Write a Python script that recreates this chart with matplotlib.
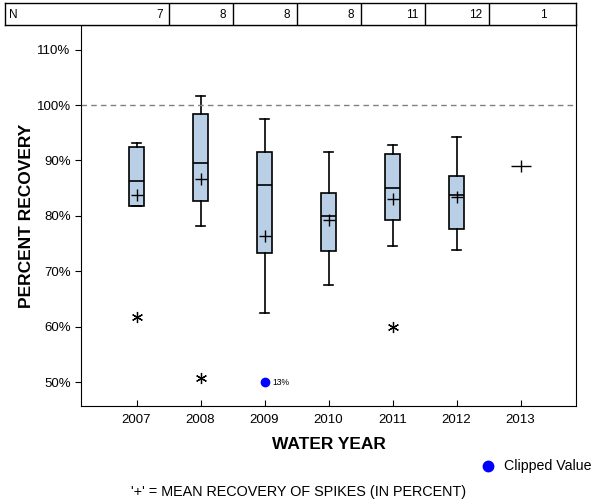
import matplotlib
matplotlib.use("Agg")
from matplotlib import pyplot as plt
from matplotlib.lines import Line2D

plt.rcParams["font.family"] = ["Liberation Sans", "DejaVu Sans"]

years = ["2007", "2008", "2009", "2010", "2011", "2012", "2013"]
counts = [7, 8, 8, 8, 11, 12, 1]

# box stats for the first six years (percent)
whis_hi = [93.1, 101.6, 97.4, 91.5, 92.7, 94.2]
q3 = [92.4, 98.3, 91.5, 84.1, 91.1, 87.1]
median = [86.3, 89.5, 85.6, 79.9, 85.0, 83.7]
q1 = [81.7, 82.6, 73.2, 73.6, 79.2, 77.7]
whis_lo = [81.7, 78.2, 62.4, 67.5, 74.5, 73.8]
means = [83.7, 86.7, 76.4, 79.2, 83.0, 83.4, 88.9]
outliers = [[61.7], [50.7], [], [], [60.0], []]

clip_year = 2
clip_value = 13
clip_at = 50

box_color = "#b9cfe6"

fig = plt.figure(figsize=(6, 5), dpi=100)
W, H = 600, 500
left, right, top, bottom = 81, 576, 25, 406
ax = fig.add_axes([left / W, 1 - bottom / H, (right - left) / W, (bottom - top) / H])

stats = []
for i in range(6):
    stats.append(dict(med=median[i], q1=q1[i], q3=q3[i], whislo=whis_lo[i],
                      whishi=whis_hi[i], mean=means[i], fliers=[]))

ax.bxp(stats, positions=range(6), widths=0.235, capwidths=0.15, patch_artist=True,
       showmeans=False, showfliers=False,
       boxprops=dict(facecolor=box_color, edgecolor="black", linewidth=1.2),
       medianprops=dict(color="black", linewidth=1.2),
       whiskerprops=dict(color="black", linewidth=1.2),
       capprops=dict(color="black", linewidth=1.2))

# means: horizontal and vertical strokes of the plus sign
xs = list(range(7))
hsize = [9] * 6 + [15]
vsize = [9] * 6 + [9]
for x, m, hs, vs in zip(xs, means, hsize, vsize):
    ax.plot([x], [m], marker="_", markersize=hs, markeredgecolor="black",
            markeredgewidth=1.0, linestyle="none")
    ax.plot([x], [m], marker="|", markersize=vs, markeredgecolor="black",
            markeredgewidth=1.0, linestyle="none")

# outliers
for i, vals in enumerate(outliers):
    for v in vals:
        ax.plot([i], [v], marker=(6, 2, 0), markersize=8, markeredgecolor="black",
                markeredgewidth=0.9, linestyle="none")

# clipped value
ax.plot([clip_year], [clip_at], marker="o", markersize=6, color="blue", linestyle="none")
ax.text(clip_year + 0.13, clip_at, "%d%%" % clip_value, fontsize=6.2,
        va="center", ha="left")

ax.axhline(100, color="gray", linestyle=(0, (4, 3)), linewidth=1.0)

px = 1 / 64.0
x0 = 0 - (136.5 - left) * px
x1 = x0 + (right - left) * px
ax.set_xlim(x0, x1)
ax.set_ylim(50 - (bottom - 382) / 5.54, 100 + (105 - top) / 5.54)

ax.set_xticks(range(7))
ax.set_xticklabels(years, fontsize=9.5)
ax.set_yticks([50, 60, 70, 80, 90, 100, 110])
ax.set_yticklabels(["50%", "60%", "70%", "80%", "90%", "100%", "110%"], fontsize=9.5)
ax.tick_params(axis="x", direction="in", length=4, pad=6)
ax.tick_params(axis="y", direction="out", length=4)
ax.set_xlabel("WATER YEAR", fontsize=12.5, fontweight="bold", labelpad=8)
ax.set_ylabel("PERCENT RECOVERY", fontsize=12.5, fontweight="bold", labelpad=2)

# N table across the top
tleft = 5
tax = fig.add_axes([tleft / W, 1 - top / H, (right - tleft) / W, 22 / H])
tax.set_xlim(x0 - (left - tleft) * px, x1)
tax.set_ylim(0, 1)
tax.set_xticks([])
tax.set_yticks([])
for s in tax.spines.values():
    s.set_linewidth(1.0)
for i in range(6):
    tax.axvline(i + 0.5, color="black", linewidth=1.0)
tax.text(x0 - (left - tleft) * px + 4 * px, 0.45, "N", fontsize=8.5, va="center", ha="left")
for i, n in enumerate(counts):
    tax.text(i + 0.5 - 6 * px, 0.45, str(n), fontsize=8.5, va="center", ha="right")

# legend and footnote
fig.add_artist(Line2D([488 / W], [1 - 466 / H], marker="o", markersize=7.5,
                      color="blue", linestyle="none", transform=fig.transFigure))
fig.text(504 / W, 1 - 466 / H, "Clipped Value", fontsize=10.2, ha="left", va="center")
fig.text(299 / W, 1 - 492 / H, "'+' = MEAN RECOVERY OF SPIKES (IN PERCENT)",
         fontsize=10.4, ha="center", va="center")

fig.savefig("out.png", dpi=100)
